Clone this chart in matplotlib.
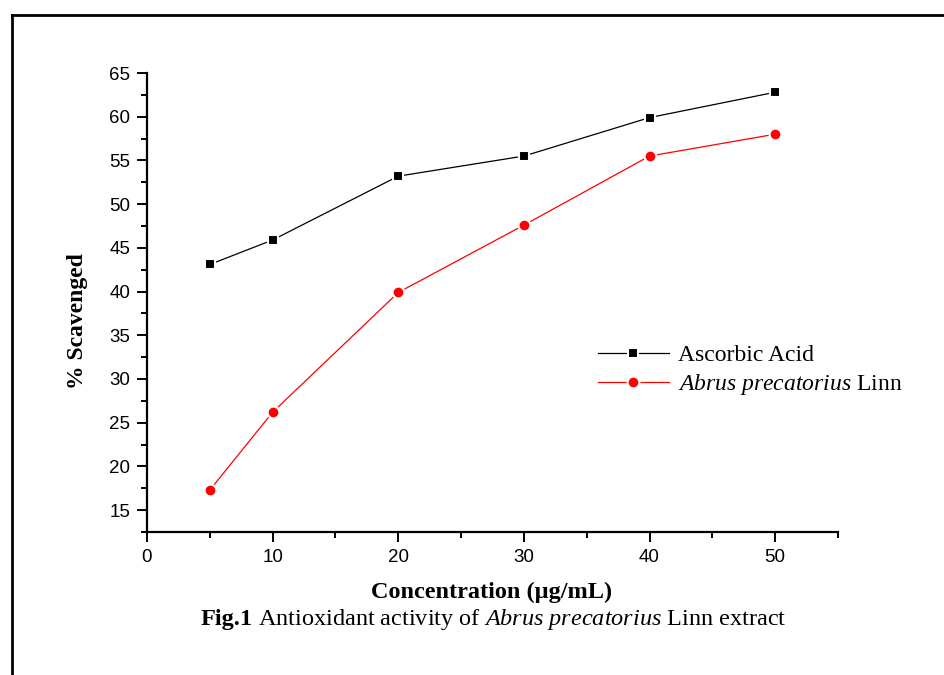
import matplotlib
matplotlib.use('Agg')
import matplotlib.pyplot as plt
from matplotlib.ticker import MultipleLocator
from matplotlib.lines import Line2D

# data
conc = [5, 10, 20, 30, 40, 50]
ascorbic = [43.1, 45.9, 53.2, 55.5, 59.9, 62.8]
abrus = [17.3, 26.2, 39.9, 47.6, 55.5, 58.0]

plt.rcParams['mathtext.fontset'] = 'custom'
plt.rcParams['mathtext.rm'] = 'Liberation Serif'
plt.rcParams['mathtext.it'] = 'Liberation Serif:italic'
plt.rcParams['mathtext.bf'] = 'Liberation Serif:bold'

fig = plt.figure(figsize=(9.45, 6.75), dpi=100)

# page frame (top and left lines)
fig.add_artist(Line2D([12 / 945, 1.0], [1 - 15 / 675, 1 - 15 / 675], color='black', lw=2, transform=fig.transFigure))
fig.add_artist(Line2D([12 / 945, 12 / 945], [0, 1 - 15 / 675], color='black', lw=2, transform=fig.transFigure))

ax = fig.add_axes([147 / 945, (675 - 532) / 675, (838 - 147) / 945, (532 - 73) / 675])

ax.plot(conc, ascorbic, color='black', lw=0.9, marker='s', markersize=7,
        markerfacecolor='black', markeredgecolor='white', markeredgewidth=1.5, label='Ascorbic Acid')
ax.plot(conc, abrus, color='red', lw=0.9, marker='o', markersize=8.5,
        markerfacecolor='red', markeredgecolor='white', markeredgewidth=1.5,
        label=r'$\mathit{Abrus\ precatorius}$ Linn')

ax.set_xlim(0, 55)
ax.set_ylim(12.5, 65)
ax.xaxis.set_major_locator(MultipleLocator(10))
ax.xaxis.set_minor_locator(MultipleLocator(5))
ax.yaxis.set_minor_locator(MultipleLocator(2.5))
ax.set_yticks(range(15, 70, 5))

for s in ['top', 'right']:
    ax.spines[s].set_visible(False)
for s in ['left', 'bottom']:
    ax.spines[s].set_linewidth(1.6)

ax.tick_params(which='major', direction='out', length=7, width=1.4, labelsize=13.5, pad=5)
ax.tick_params(which='minor', direction='out', length=4, width=1.4)
for lab in ax.get_xticklabels() + ax.get_yticklabels():
    lab.set_family('Liberation Sans')

ax.set_xlabel('Concentration (µg/mL)', family='Liberation Serif', fontweight='bold', fontsize=17.5)
ax.xaxis.set_label_coords(0.498, -0.108)
ax.set_ylabel('% Scavenged', family='Liberation Serif', fontweight='bold', fontsize=17)
ax.yaxis.set_label_coords(-0.085, 0.46)

leg = ax.legend(loc='upper left', bbox_to_anchor=(0.622, 0.455), frameon=False,
                prop={'family': 'Liberation Serif', 'size': 17},
                handlelength=3.0, handletextpad=0.4, labelspacing=0.25)

# caption: bold "Fig.1" followed by the rest, laid out side by side
cap_y = 1 - 619 / 675
cap_size = 17.5
renderer = fig.canvas.get_renderer()
t1 = fig.text(0, cap_y, 'Fig.1', fontweight='bold', fontsize=cap_size,
              family='Liberation Serif', va='center')
t2 = fig.text(0, cap_y, r' Antioxidant activity of $\mathit{Abrus\ precatorius}$ Linn extract',
              fontsize=cap_size, family='Liberation Serif', va='center')
w1 = t1.get_window_extent(renderer).width
w2 = t2.get_window_extent(renderer).width
start = 493.5 - (w1 + w2) / 2
t1.set_x(start / 945)
t2.set_x((start + w1) / 945)

fig.savefig('out.png', dpi=100)
